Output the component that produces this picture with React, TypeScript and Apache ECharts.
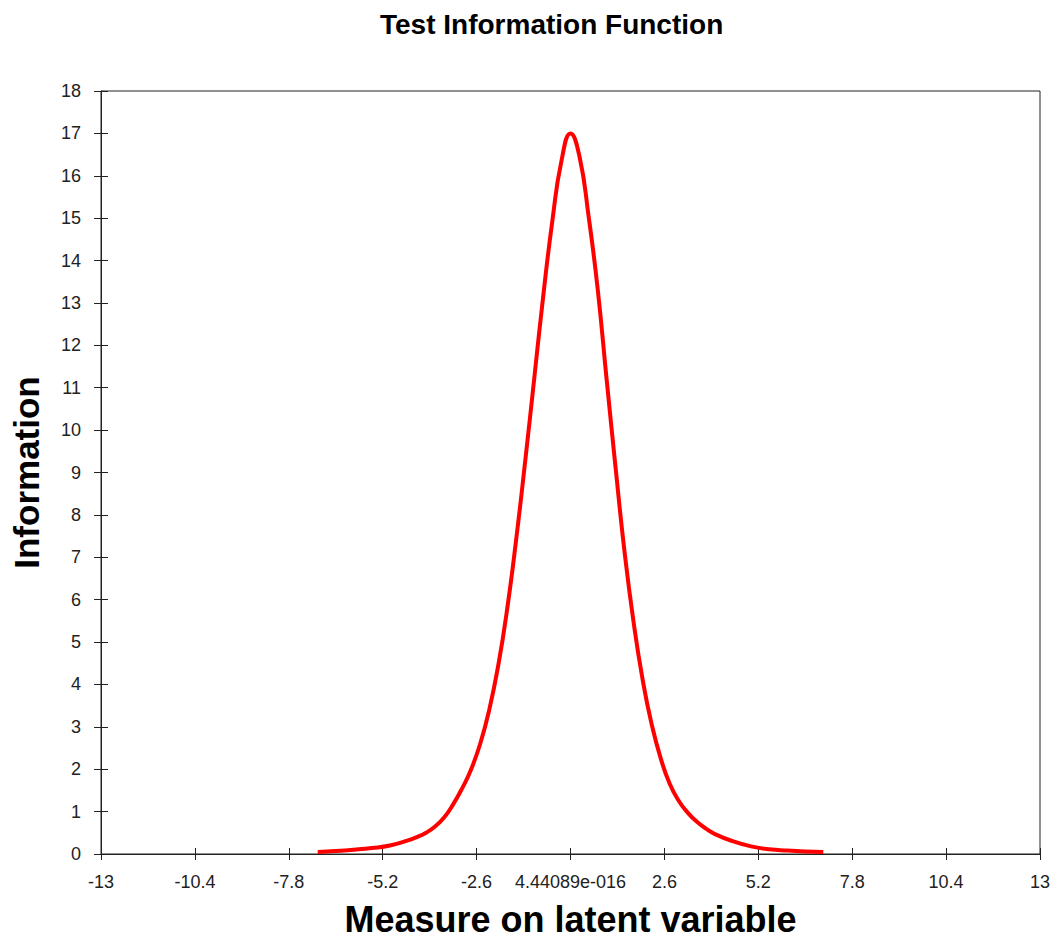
import React, { useEffect, useRef } from "react";
import * as echarts from "echarts";

const thetaValues = [
  -7, -6.5, -6, -5.5, -5, -4.5, -4.25, -4, -3.75, -3.5, -3.25, -3, -2.75, -2.5, -2.25, -2, -1.75, -1.5, -1.25, -1, -0.75, -0.5, -0.25,
  0, 0.25, 0.5, 0.75, 1, 1.25, 1.5, 1.75, 2, 2.25, 2.5, 2.75, 3, 3.25, 3.5, 3.75, 4, 4.5, 5, 5.5, 6, 6.5, 7,
];
const informationValues = [
  0.05, 0.07, 0.1, 0.14, 0.2, 0.32, 0.4, 0.5, 0.65, 0.86, 1.17, 1.55, 2.0, 2.6, 3.4, 4.45, 5.8, 7.45, 9.3, 11.25, 13.2, 14.95, 16.35,
  17.0, 16.45, 15.05, 13.35, 11.2, 9.1, 7.1, 5.45, 4.1, 3.05, 2.25, 1.65, 1.25, 0.97, 0.76, 0.6, 0.47, 0.3, 0.18, 0.11, 0.08, 0.06, 0.05,
];
const xTickLabels = ["-13", "-10.4", "-7.8", "-5.2", "-2.6", "4.44089e-016", "2.6", "5.2", "7.8", "10.4", "13"];

const FONT = "'Liberation Sans', Arial, sans-serif";
const AXIS = "#222";

export default function App() {
  const ref = useRef<HTMLDivElement>(null);
  useEffect(() => {
    if (!ref.current) return;
    const chart = echarts.init(ref.current, null, { renderer: "svg" });
    const xFmt = (v: number) => {
      const i = Math.round((v + 13) / 2.6);
      return xTickLabels[i] ?? "";
    };
    const baseX = {
      type: "value" as const,
      min: -13,
      max: 13,
      interval: 2.6,
      splitLine: { show: false },
    };
    const baseY = {
      type: "value" as const,
      min: 0,
      max: 18,
      interval: 1,
      splitLine: { show: false },
    };
    chart.setOption({
      animation: false,
      backgroundColor: "#fff",
      title: {
        text: "Test Information Function",
        left: 375,
        top: 5,
        textStyle: { fontFamily: FONT, fontWeight: "bold", fontSize: 28, color: "#000" },
      },
      grid: {
        left: 101,
        right: 14,
        top: 91,
        bottom: 85,
        outerBoundsMode: "none",
        containLabel: false,
        show: true,
        borderColor: AXIS,
        borderWidth: 1,
        backgroundColor: "transparent",
      },
      xAxis: [
        {
          ...baseX,
          position: "bottom",
          name: "Measure on latent variable",
          nameLocation: "middle",
          nameGap: 47,
          nameTextStyle: { fontFamily: FONT, fontWeight: "bold", fontSize: 36, color: "#000" },
          axisLine: { show: true, onZero: false, lineStyle: { color: AXIS, width: 1 } },
          axisTick: { show: true, inside: false, length: 6, lineStyle: { color: AXIS } },
          axisLabel: {
            formatter: xFmt,
            margin: 19,
            fontFamily: FONT,
            fontSize: 18,
            color: "#222",
            showMinLabel: true,
            showMaxLabel: true,
          },
        },
        {
          ...baseX,
          position: "bottom",
          axisLine: { show: false, onZero: false },
          axisTick: { show: true, inside: true, length: 6, lineStyle: { color: AXIS } },
          axisLabel: { show: false },
        },
      ],
      yAxis: [
        {
          ...baseY,
          position: "left",
          name: "Information",
          nameLocation: "middle",
          nameGap: 57,
          nameTextStyle: { fontFamily: FONT, fontWeight: "bold", fontSize: 35, color: "#000" },
          axisLine: { show: true, onZero: false, lineStyle: { color: AXIS, width: 1 } },
          axisTick: { show: true, inside: false, length: 7, lineStyle: { color: AXIS } },
          axisLabel: { margin: 20, fontFamily: FONT, fontSize: 18, color: "#222" },
        },
        {
          ...baseY,
          position: "left",
          axisLine: { show: false, onZero: false },
          axisTick: { show: true, inside: true, length: 7, lineStyle: { color: AXIS } },
          axisLabel: { show: false },
        },
      ],
      series: [
        {
          type: "line",
          xAxisIndex: 0,
          yAxisIndex: 0,
          data: thetaValues.map((t, i) => [t, informationValues[i]]),
          smooth: 0.5,
          showSymbol: false,
          symbol: "none",
          lineStyle: { color: "#ff0000", width: 4 },
        },
      ],
    });
    return () => chart.dispose();
  }, []);
  return <div ref={ref} style={{ width: 1054, height: 939, position: "absolute", left: 0, top: 0 }} />;
}
